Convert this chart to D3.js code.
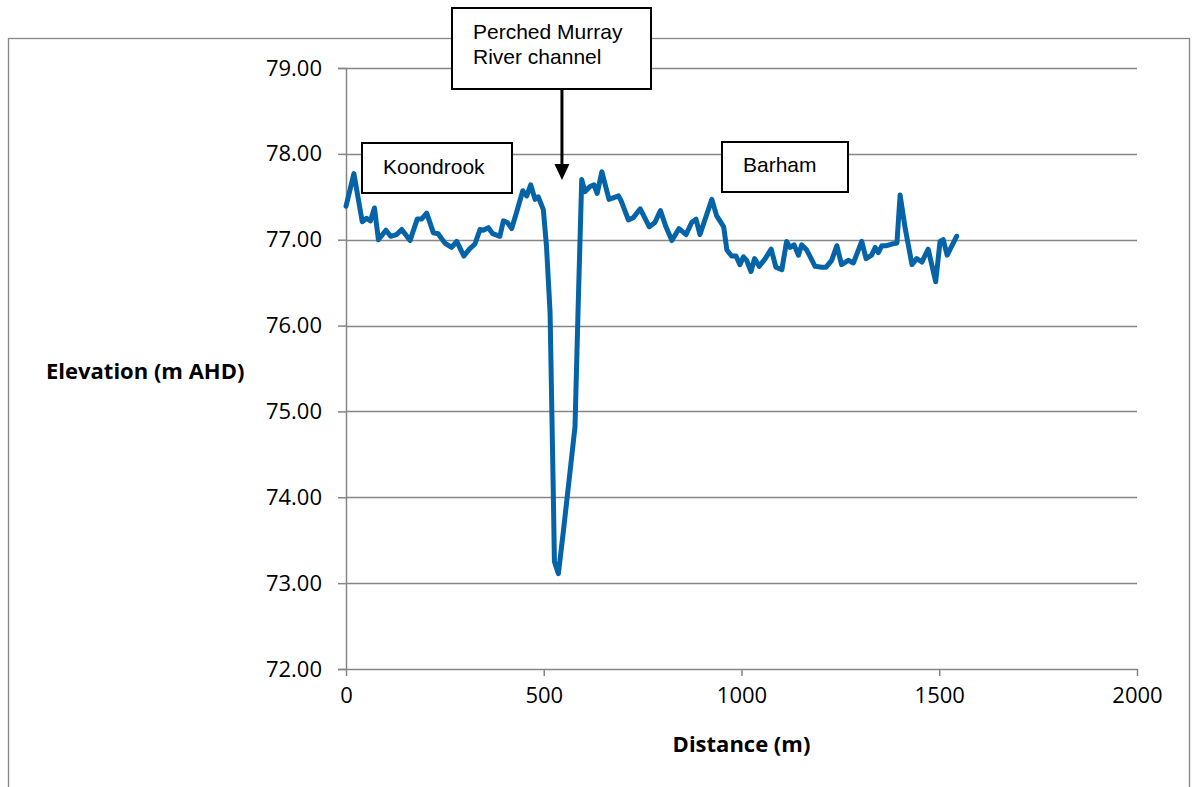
<!DOCTYPE html>
<html>
<head>
<meta charset="utf-8">
<script src="https://cdn.jsdelivr.net/npm/d3@7/dist/d3.min.js"></script>
<style>
  html, body { margin: 0; padding: 0; background: #fff; }
  svg { display: block; }
</style>
</head>
<body>
<svg id="chart" width="1197" height="787"></svg>
<script>
// ---- data ----
const distance = [0,20,41,52,62,72,82,101,113,128,141,162,180,191,204,221,233,250,267,280,298,312,326,339,347,360,371,389,398,408,419,430,447,457,467,478,486,499,507,516,524,527,537,550,566,579,587,596,604,617,627,635,647,665,689,695,714,727,744,767,781,795,809,824,842,860,874,885,895,925,937,955,963,975,986,996,1005,1013,1024,1033,1045,1060,1075,1087,1102,1114,1123,1133,1144,1152,1165,1186,1203,1214,1228,1241,1253,1270,1283,1304,1315,1329,1338,1346,1355,1367,1380,1393,1401,1414,1431,1443,1456,1472,1491,1502,1510,1520,1544];
const elevation = [77.39,77.77,77.21,77.25,77.22,77.37,77.00,77.11,77.04,77.06,77.12,76.99,77.24,77.24,77.31,77.08,77.07,76.96,76.91,76.98,76.81,76.89,76.95,77.12,77.11,77.14,77.07,77.04,77.22,77.20,77.13,77.30,77.57,77.51,77.64,77.47,77.50,77.35,76.92,76.15,74.09,73.25,73.11,73.62,74.28,74.82,76.22,77.70,77.56,77.62,77.64,77.54,77.79,77.47,77.51,77.46,77.23,77.26,77.36,77.15,77.20,77.34,77.15,76.99,77.13,77.06,77.20,77.24,77.06,77.47,77.28,77.15,76.88,76.81,76.81,76.71,76.80,76.76,76.63,76.78,76.69,76.78,76.89,76.68,76.65,76.98,76.91,76.94,76.82,76.94,76.88,76.69,76.68,76.68,76.76,76.93,76.71,76.76,76.73,76.98,76.78,76.82,76.91,76.85,76.93,76.93,76.95,76.96,77.52,77.13,76.71,76.78,76.74,76.89,76.51,76.98,77.00,76.82,77.04];
const xTicks = [0, 500, 1000, 1500, 2000];
const yTicks = [72, 73, 74, 75, 76, 77, 78, 79];
const xTitle = "Distance (m)";
const yTitle = "Elevation (m AHD)";
const labels = [
  { text: ["Koondrook"] },
  { text: ["Barham"] },
  { text: ["Perched Murray", "River channel"] }
];
const arrowDistance = 546;

// ---- layout ----
const svg = d3.select("#chart");
const gridColor = "#868686";
const x = d3.scaleLinear().domain([0, 2000]).range([346, 1137]);
const y = d3.scaleLinear().domain([72, 79]).range([669, 68]);

// outer chart border
svg.append("rect")
  .attr("x", 8.5).attr("y", 38.5).attr("width", 1181).attr("height", 800)
  .attr("fill", "none").attr("stroke", gridColor).attr("stroke-width", 1.3);

// horizontal gridlines
svg.append("g").selectAll("line").data(yTicks.filter(d => d > 72)).join("line")
  .attr("x1", x(0)).attr("x2", x(2000))
  .attr("y1", d => Math.round(y(d)) + 0.5).attr("y2", d => Math.round(y(d)) + 0.5)
  .attr("stroke", gridColor).attr("stroke-width", 1.5);

// y axis
const yAxis = d3.axisLeft(y).tickValues(yTicks).tickFormat(d3.format(".2f")).tickSize(8).tickPadding(16);
const gy = svg.append("g").attr("transform", `translate(${x(0)},0)`).call(yAxis);
gy.select(".domain").attr("stroke", gridColor).attr("stroke-width", 1.5);
gy.selectAll(".tick line").attr("stroke", gridColor).attr("stroke-width", 1.5);
gy.selectAll(".tick text").attr("font-family", "'Open Sans', sans-serif").attr("font-size", 22).attr("fill", "#000");

// x axis
const xAxis = d3.axisBottom(x).tickValues(xTicks).tickFormat(d3.format("d")).tickSize(7).tickPadding(11).tickSizeOuter(0);
const gx = svg.append("g").attr("transform", `translate(0,${y(72)})`).call(xAxis);
gx.select(".domain").attr("stroke", gridColor).attr("stroke-width", 1.5);
gx.selectAll(".tick line").attr("stroke", gridColor).attr("stroke-width", 1.5);
gx.selectAll(".tick text").attr("font-family", "'Open Sans', sans-serif").attr("font-size", 22).attr("fill", "#000");

// axis titles
svg.append("text").attr("x", 46).attr("y", 379)
  .attr("font-family", "'Open Sans', sans-serif").attr("font-weight", "bold").attr("font-size", 22)
  .text(yTitle);
svg.append("text").attr("x", x(1000)).attr("y", 752).attr("text-anchor", "middle")
  .attr("font-family", "'Open Sans', sans-serif").attr("font-weight", "bold").attr("font-size", 22)
  .text(xTitle);

// data line
const line = d3.line().x((d, i) => x(distance[i])).y(d => y(d));
svg.append("path").datum(elevation)
  .attr("d", line)
  .attr("fill", "none").attr("stroke", "#0563a8").attr("stroke-width", 5)
  .attr("stroke-linejoin", "round").attr("stroke-linecap", "round");

// annotation boxes
const boxes = [
  { x: 362, y: 143, w: 150, h: 50, tx: 383, ty: [174] },
  { x: 722, y: 142, w: 126, h: 50, tx: 743, ty: [172] },
  { x: 452, y: 8, w: 199, h: 81, tx: 473, ty: [39, 64] }
];
boxes.forEach((b, i) => {
  svg.append("rect").attr("x", b.x).attr("y", b.y).attr("width", b.w).attr("height", b.h)
    .attr("fill", "#fff").attr("stroke", "#000").attr("stroke-width", 2);
  labels[i].text.forEach((t, j) => {
    svg.append("text").attr("x", b.tx).attr("y", b.ty[j])
      .attr("font-family", "'Liberation Sans', Arial, sans-serif").attr("font-size", 21).attr("fill", "#000")
      .text(t);
  });
});

// arrow
const ax = x(arrowDistance);
svg.append("line").attr("x1", ax).attr("x2", ax).attr("y1", 89).attr("y2", 166)
  .attr("stroke", "#000").attr("stroke-width", 3);
svg.append("path").attr("d", `M${ax - 7.5},164 L${ax + 7.5},164 L${ax},180 Z`).attr("fill", "#000");
</script>
</body>
</html>
